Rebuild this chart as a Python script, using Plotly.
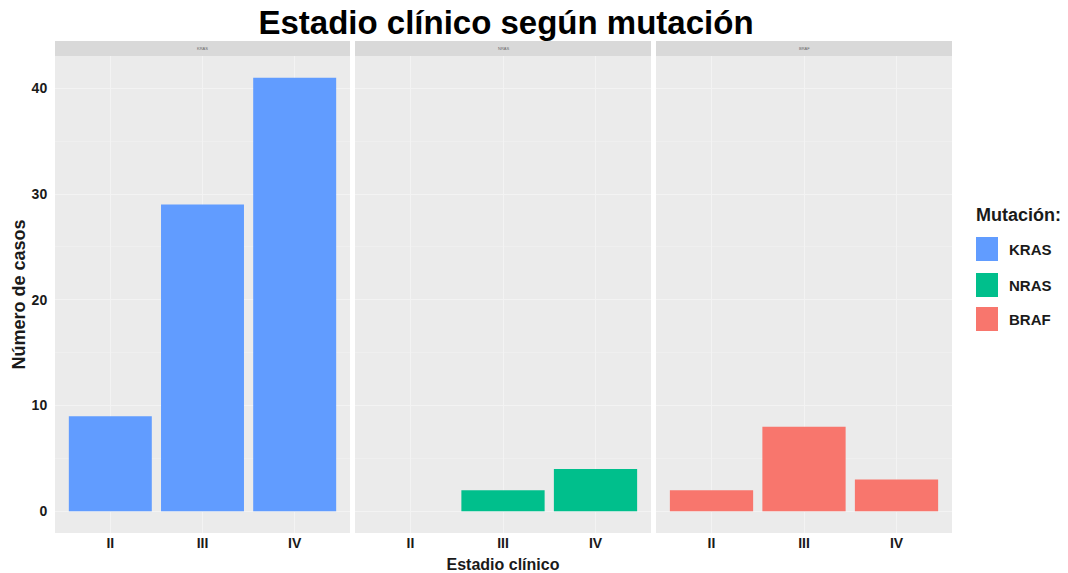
import plotly.graph_objects as go

stages = ["II", "III", "IV"]
mutations = ["KRAS", "NRAS", "BRAF"]
kras = [9, 29, 41]
nras = [0, 2, 4]
braf = [2, 8, 3]
values = [kras, nras, braf]
colors = ["#619CFF", "#00BF8C", "#F8766D"]
y_ticks = [0, 10, 20, 30, 40]

W, H = 1068, 573
domains = [(55 / W, 350 / W), (355 / W, 651 / W), (656 / W, 952 / W)]
ybot, ytop = 1 - 533 / H, 1 - 56 / H
strip_top = 1 - 41 / H

FONT = "Liberation Sans"
fig = go.Figure()
for i, (m, v, c) in enumerate(zip(mutations, values, colors)):
    sfx = "" if i == 0 else str(i + 1)
    fig.add_trace(go.Bar(x=stages, y=v, name=m, marker_color=c, width=0.9,
                         xaxis="x" + sfx, yaxis="y" + sfx, showlegend=False,
                         marker_line_width=0))

layout = dict(
    width=W, height=H,
    margin=dict(l=0, r=0, t=0, b=0),
    paper_bgcolor="white", plot_bgcolor="#EBEBEB",
    font=dict(family=FONT, color="#1a1a1a"),
    title=dict(text="<b>Estadio clínico según mutación</b>", x=506 / W, xanchor="center",
               y=1 - 22 / H, yanchor="middle", font=dict(size=33, color="black")),
    bargap=0.1,
)
for i in range(3):
    sfx = "" if i == 0 else str(i + 1)
    layout["xaxis" + sfx] = dict(
        domain=list(domains[i]), anchor="y" + sfx, type="category",
        categoryorder="array", categoryarray=stages, range=[-0.6, 2.6],
        tickvals=stages, ticktext=["<b>" + s + "</b>" for s in stages],
        showgrid=True, gridcolor="#F3F3F3", gridwidth=1.2, zeroline=False,
        ticks="", tickfont=dict(size=14, color="#1a1a1a", family=FONT), showline=False,
    )
    layout["yaxis" + sfx] = dict(
        domain=[ybot, ytop], anchor="x" + sfx, range=[-2.05, 43.05],
        tickvals=y_ticks, ticktext=["<b>%d</b>" % t for t in y_ticks], showticklabels=(i == 0),
        showgrid=True, gridcolor="#F3F3F3", gridwidth=1.2, zeroline=False,
        minor=dict(dtick=5, tick0=0, showgrid=True, gridcolor="#EFEFEF", gridwidth=0.6),
        ticks="outside" if i == 0 else "", ticklen=4, tickcolor="rgba(0,0,0,0)",
        tickfont=dict(size=14, color="#1a1a1a", family=FONT), showline=False,
    )
    if i > 0:
        layout["yaxis" + sfx]["matches"] = "y"
layout["xaxis2"]["title"] = dict(text="<b>Estadio clínico</b>", font=dict(size=16, color="#1a1a1a"), standoff=9)
layout["yaxis"]["title"] = dict(text="<b>Número de casos</b>", font=dict(size=18, color="#1a1a1a"), standoff=1)

shapes = []
annotations = []
for i, m in enumerate(mutations):
    shapes.append(dict(type="rect", xref="paper", yref="paper", x0=domains[i][0], x1=domains[i][1],
                       y0=ytop, y1=strip_top, fillcolor="#D9D9D9", line_width=0, layer="below"))
    annotations.append(dict(text=m, xref="paper", yref="paper", x=(domains[i][0] + domains[i][1]) / 2,
                            y=(ytop + strip_top) / 2, showarrow=False, font=dict(size=4, color="#666666"),
                            xanchor="center", yanchor="middle"))

# legend drawn manually
annotations.append(dict(text="<b>Mutación:</b>", xref="paper", yref="paper", x=974 / W, y=1 - 215 / H,
                        xanchor="left", yanchor="middle", showarrow=False,
                        font=dict(size=18, color="#1a1a1a")))
key_tops = [237, 273, 307]
for m, c, t in zip(mutations, colors, key_tops):
    shapes.append(dict(type="rect", xref="paper", yref="paper", x0=976 / W, x1=998 / W,
                       y0=1 - (t + 24) / H, y1=1 - t / H, fillcolor=c, line_width=0))
    annotations.append(dict(text="<b>" + m + "</b>", xref="paper", yref="paper", x=1007 / W,
                            y=1 - (t + 12) / H, xanchor="left", yanchor="middle", showarrow=False,
                            font=dict(size=15, color="#1a1a1a")))
layout["shapes"] = shapes
layout["annotations"] = annotations
fig.update_layout(**layout)
fig.write_html("out.html", config={"displayModeBar": False},
               post_script="document.body.style.margin='0';document.body.style.overflow='hidden';")
